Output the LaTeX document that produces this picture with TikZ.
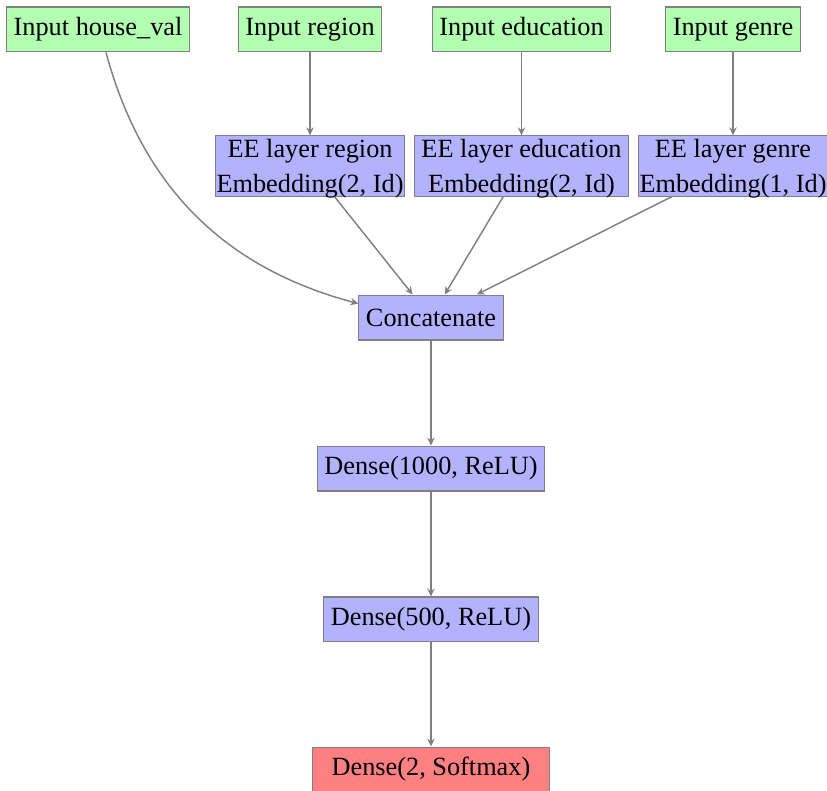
\documentclass[tikz,border=0pt]{standalone}
\usepackage{fontspec}
\setmainfont{Liberation Serif}
\usetikzlibrary{arrows.meta}

\begin{document}
\begin{tikzpicture}[
  layer/.style={draw=gray, inner xsep=2.7pt, inner ysep=0pt, minimum height=17.1pt},
  inlayer/.style={layer, fill=green!30},
  hidlayer/.style={layer, fill=blue!30},
  outlayer/.style={layer, fill=red!50, inner xsep=7.4pt},
  eelayer/.style={draw=gray, fill=blue!30, align=center, inner xsep=0.5pt, inner ysep=1.25pt,
    text depth=0pt, font=\fontsize{10}{13.5}\selectfont},
  link/.style={-{Stealth[length=3pt, width=2.8pt, inset=1pt]}, gray, line width=0.55pt}]

\useasboundingbox (0,0) rectangle (11.051,-10.557);

\node [inlayer] (inhouse)  at (1.310,-0.394) {Input house\_val};
\node [inlayer] (inregion) at (4.143,-0.394) {Input region};
\node [inlayer] (inedu)    at (6.969,-0.394) {Input education};
\node [inlayer] (ingenre)  at (9.795,-0.394) {Input genre};

\node [eelayer] (eeregion) at (4.143,-2.218) {EE layer region\\Embedding(2, Id)};
\node [eelayer, inner xsep=2.5pt] (eeedu) at (6.969,-2.218) {EE layer education\\Embedding(2, Id)};
\node [eelayer] (eegenre)  at (9.795,-2.218) {EE layer genre\\Embedding(1, Id)};

\node [hidlayer] (concat) at (5.759,-4.243) {Concatenate};
\node [hidlayer] (dense1) at (5.759,-6.261) {Dense(1000, ReLU)};
\node [hidlayer] (dense2) at (5.759,-8.278) {Dense(500, ReLU)};
\node [outlayer] (output) at (5.759,-10.283) {Dense(2, Softmax)};

\draw [link] (inregion) -- (eeregion);
\draw [link] (inedu) -- (eeedu);
\draw [link] (ingenre) -- (eegenre);

\draw [link] (inhouse) to [bend right=30] (concat);
\draw [link] (eeregion) -- (concat);
\draw [link] (eeedu) -- (concat);
\draw [link] (eegenre) -- (concat);

\draw [link] (concat) -- (dense1);
\draw [link] (dense1) -- (dense2);
\draw [link] (dense2) -- (output);

\end{tikzpicture}
\end{document}
